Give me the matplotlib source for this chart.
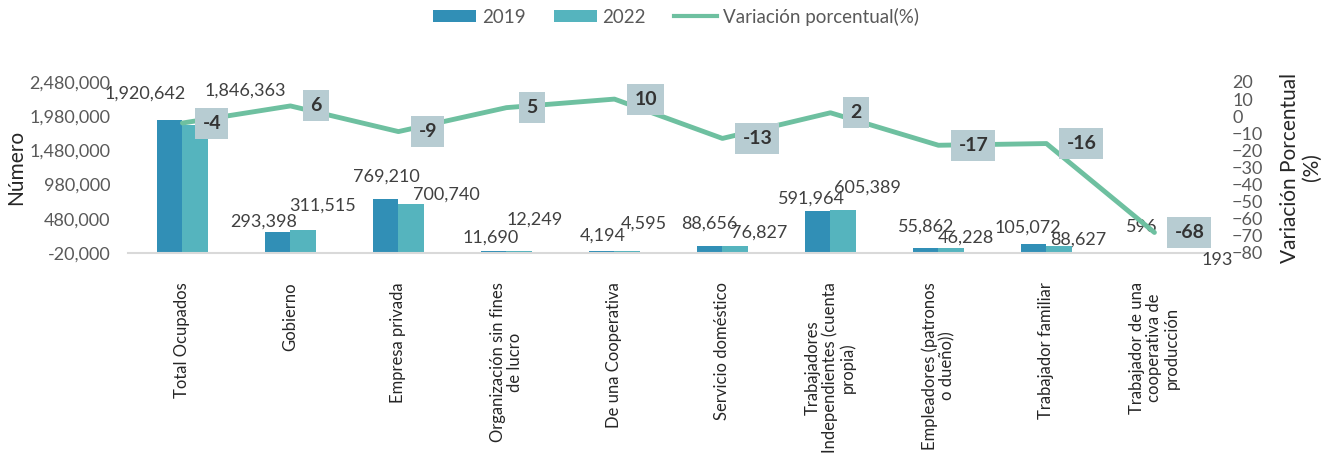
import matplotlib

matplotlib.use("Agg")
import matplotlib.pyplot as plt
from matplotlib.lines import Line2D
from matplotlib.patches import Patch
from matplotlib.ticker import FuncFormatter

plt.rcParams["font.family"] = ["Lato", "DejaVu Sans"]

categories = [
    "Total Ocupados",
    "Gobierno",
    "Empresa privada",
    "Organización sin fines\nde lucro",
    "De una Cooperativa",
    "Servicio doméstico",
    "Trabajadores\nIndependientes (cuenta\npropia)",
    "Empleadores (patronos\no dueño))",
    "Trabajador familiar",
    "Trabajador de una\ncooperativa de\nproducción",
]
ocupados_2019 = [1920642, 293398, 769210, 11690, 4194, 88656, 591964, 55862, 105072, 596]
ocupados_2022 = [1846363, 311515, 700740, 12249, 4595, 76827, 605389, 46228, 88627, 193]
variacion = [-4, 6, -9, 5, 10, -13, 2, -17, -16, -68]

left_ticks = [-20000, 480000, 980000, 1480000, 1980000, 2480000]
right_ticks = list(range(-80, 30, 10))

# label nudges in pixels (dx, dy with dy downwards), like the hand-moved Excel labels
off_2019 = [(-25, -27), (-14, -10), (1, -22), (-3, -13), (1, -16),
            (0, -22), (-6, -13), (0, -21), (-6, -17), (0, -25)]
off_2022 = [(50, -35), (19, -25), (35, -9), (15, -31), (17, -28),
            (24, -14), (24, -23), (15, -11), (19, -6), (50, 8)]

c19 = "#318FB6"
c22 = "#55B4BE"
c_line = "#6EC0A0"
c_box = "#B7CCD2"
c_txt = "#595959"

fig = plt.figure(figsize=(13.31, 4.63), dpi=100)
ax = fig.add_axes([0.0965, 0.4536, 0.8114, 0.3693])
ax2 = ax.twinx()

x = list(range(len(categories)))
w = 0.236
x19 = [i - w / 2 for i in x]
x22 = [i + w / 2 for i in x]
ax.bar(x19, ocupados_2019, width=w, color=c19, zorder=2)
ax.bar(x22, ocupados_2022, width=w, color=c22, zorder=2)

for xs, vals, offs in [(x19, ocupados_2019, off_2019), (x22, ocupados_2022, off_2022)]:
    for xi, v, (dx, dy) in zip(xs, vals, offs):
        ax.annotate(f"{v:,}", xy=(xi, v), xytext=(dx, -dy), textcoords="offset pixels",
                    ha="center", va="center", fontsize=13, color="#404040", zorder=5)

ax.set_xlim(-0.5, len(categories) - 0.5)
ax.set_ylim(left_ticks[0], left_ticks[-1])
ax.set_yticks(left_ticks)
ax.yaxis.set_major_formatter(FuncFormatter(lambda v, p: f"{int(v):,}"))
ax.tick_params(axis="y", length=0, pad=13, labelsize=13, labelcolor=c_txt)
ax.set_xticks(x)
ax.set_xticklabels(categories, rotation=90, ha="center", va="top", fontsize=12,
                   color="#262626", multialignment="center", linespacing=1.1)
ax.tick_params(axis="x", length=0, pad=21)
for s in ["top", "left", "right"]:
    ax.spines[s].set_visible(False)
ax.spines["bottom"].set_color("#D9D9D9")
ax.spines["bottom"].set_linewidth(1.5)
ax.set_ylabel("Número", fontsize=15, color="#262626", labelpad=2)

ax2.plot(x, variacion, color=c_line, linewidth=3.5, zorder=3, solid_capstyle="round")
for xi, v in zip(x, variacion):
    ax2.annotate(f"{v}", xy=(xi, v), xytext=(20, 0), textcoords="offset pixels",
                 ha="left", va="center", fontsize=14, fontweight="bold", color="#333333",
                 bbox=dict(boxstyle="square,pad=0.36", facecolor=c_box, edgecolor="none"),
                 zorder=6)
ax2.set_ylim(right_ticks[0], right_ticks[-1])
ax2.set_yticks(right_ticks)
ax2.tick_params(axis="y", length=0, pad=17, labelsize=13, labelcolor=c_txt)
for s in ["top", "left", "right", "bottom"]:
    ax2.spines[s].set_visible(False)
ax2.set_ylabel("Variación Porcentual\n(%)", fontsize=15, color="#262626",
               labelpad=12, linespacing=1.1)

handles = [
    Patch(facecolor=c19, edgecolor="none", label="2019"),
    Patch(facecolor=c22, edgecolor="none", label="2022"),
    Line2D([0], [0], color=c_line, linewidth=3, label="Variación porcentual(%)"),
]
fig.legend(handles=handles, loc="upper center", bbox_to_anchor=(0.508, 1.02), ncol=3,
           frameon=False, fontsize=13.5, labelcolor=c_txt, handlelength=2.3,
           handleheight=0.6, handletextpad=0.3, columnspacing=1.5)

fig.savefig("out.png", dpi=100)
